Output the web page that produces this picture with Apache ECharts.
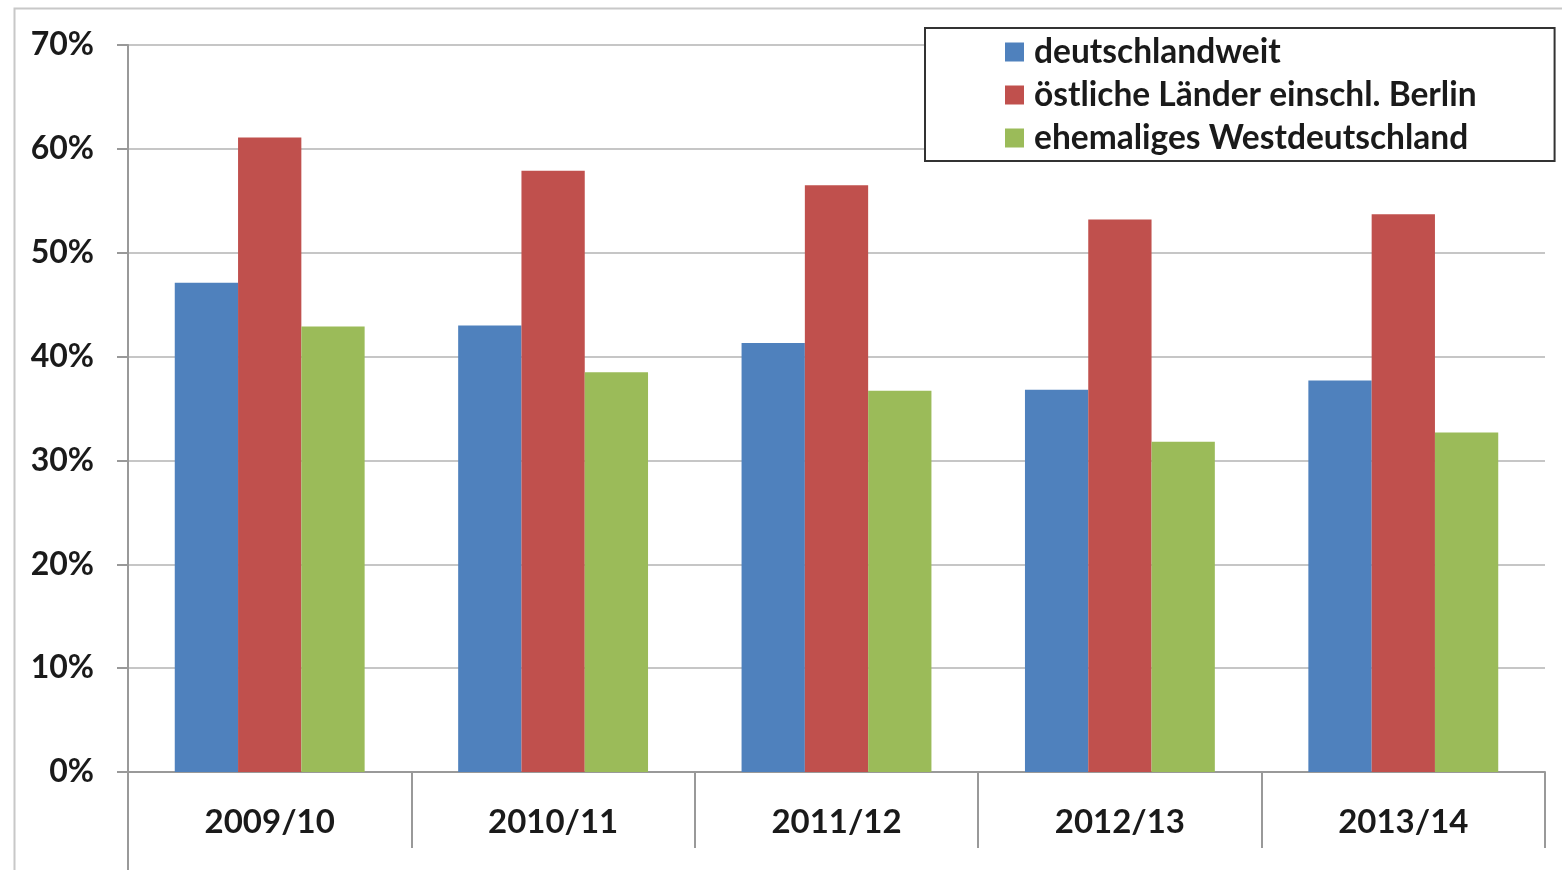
<!DOCTYPE html>
<html>
<head>
<meta charset="utf-8">
<script src="https://cdn.jsdelivr.net/npm/echarts@6/dist/echarts.min.js"></script>
<style>
html, body { margin: 0; padding: 0; background: #fff; }
#chart { width: 1562px; height: 870px; }
</style>
</head>
<body>
<div id="chart"></div>
<script>
var years = ['2009/10', '2010/11', '2011/12', '2012/13', '2013/14'];
var deutschlandweit = [47.1, 43.0, 41.3, 36.8, 37.7];
var oestlich = [61.1, 57.9, 56.5, 53.2, 53.7];
var westdeutschland = [42.9, 38.5, 36.7, 31.8, 32.7];
var seriesNames = ['deutschlandweit', 'östliche Länder einschl. Berlin', 'ehemaliges Westdeutschland'];

var myChart = echarts.init(document.getElementById('chart'));
var fontFam = 'Lato, "Open Sans", sans-serif';

var option = {
    animation: false,
    color: ['#4F81BD', '#C0504D', '#9BBB59'],
    graphic: [
        {   // aeusserer Rahmen
            type: 'rect',
            left: 12, top: 6,
            shape: { width: 1600, height: 900 },
            style: { fill: 'none', stroke: '#c8c8c8', lineWidth: 2 },
            silent: true
        },
        {   // y-Achse laeuft bis unten durch
            type: 'line',
            shape: { x1: 128, y1: 772, x2: 128, y2: 870 },
            style: { stroke: '#999', lineWidth: 2 },
            silent: true
        }
    ],
    legend: {
        orient: 'vertical',
        left: 925,
        top: 28,
        padding: [7, 78, 6, 80],
        itemGap: 9,
        itemWidth: 19,
        itemHeight: 19,
        icon: 'rect',
        backgroundColor: '#fff',
        borderColor: '#333',
        borderWidth: 2,
        textStyle: { fontFamily: fontFam, fontSize: 33.5, fontWeight: 'bold', color: '#1a1a1a', padding: [0, 0, 0, 5] },
        data: seriesNames
    },
    grid: {
        left: 128,
        right: 17,
        top: 45,
        bottom: 98
    },
    xAxis: {
        type: 'category',
        data: years,
        axisLine: { lineStyle: { color: '#999', width: 2 } },
        axisTick: { show: true, length: 76, alignWithLabel: false, lineStyle: { color: '#999', width: 2 } },
        axisLabel: { margin: 34, fontFamily: fontFam, fontSize: 33, fontWeight: 'bold', color: '#1a1a1a' }
    },
    yAxis: {
        type: 'value',
        min: 0,
        max: 70,
        interval: 10,
        axisLine: { show: true, lineStyle: { color: '#999', width: 2 } },
        axisTick: { show: true, length: 11, lineStyle: { color: '#999', width: 2 } },
        axisLabel: { margin: 34, fontFamily: fontFam, fontSize: 32, fontWeight: 'bold', color: '#1a1a1a', formatter: '{value}%' },
        splitLine: { lineStyle: { color: '#c6c6c6', width: 2 } }
    },
    series: [
        { name: seriesNames[0], type: 'bar', data: deutschlandweit, barGap: '0%', barCategoryGap: '33%' },
        { name: seriesNames[1], type: 'bar', data: oestlich, barGap: '0%', barCategoryGap: '33%' },
        { name: seriesNames[2], type: 'bar', data: westdeutschland, barGap: '0%', barCategoryGap: '33%' }
    ]
};
myChart.setOption(option);
</script>
</body>
</html>
